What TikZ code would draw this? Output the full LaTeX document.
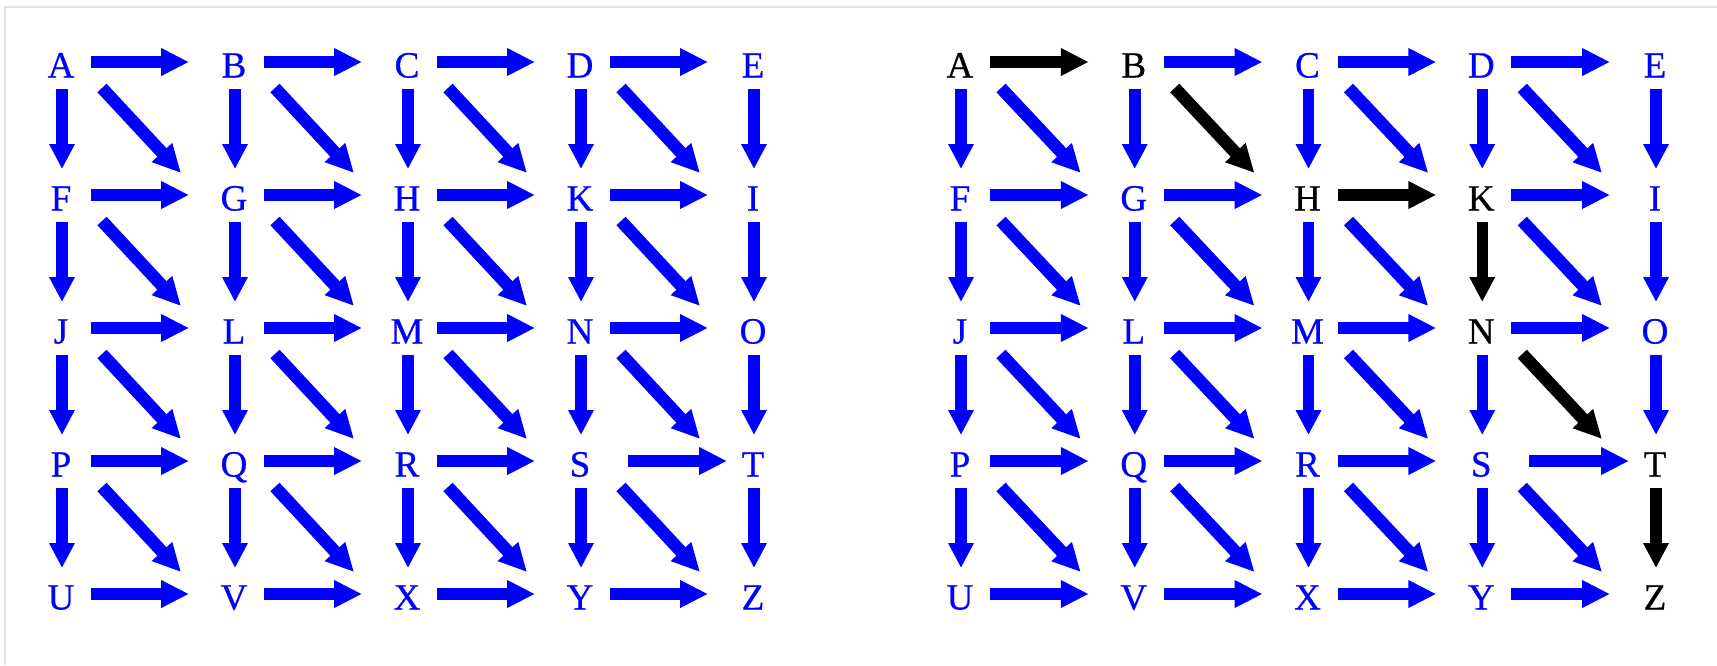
\documentclass[tikz,border=0pt]{standalone}
\usepackage{fontspec}
\setmainfont{Liberation Serif}
\newfontfamily\lblfont{Liberation Serif}[FakeBold=0.6]
\usetikzlibrary{arrows.meta}
\definecolor{pblue}{RGB}{0,0,255}
\definecolor{framegray}{RGB}{228,228,228}
\newcommand\markblk[1]{\expandafter\def\csname blk-#1\endcsname{}}
\markblk{R-n-0-0}\markblk{R-n-0-1}\markblk{R-n-1-2}\markblk{R-n-1-3}
\markblk{R-n-2-3}\markblk{R-n-3-4}\markblk{R-n-4-4}
\markblk{R-h-0-0}\markblk{R-d-0-1}\markblk{R-h-1-2}\markblk{R-v-1-3}
\markblk{R-d-2-3}\markblk{R-v-3-4}
\newcommand\drawgrid[3]{%
  \foreach \n [count=\k from 0] in {A,B,C,D,E,F,G,H,K,I,J,L,M,N,O,P,Q,R,S,T,U,V,X,Y,Z}{
    \pgfmathtruncatemacro\r{\k/5}
    \pgfmathtruncatemacro\c{mod(\k,5)}
    \ifcsname blk-#1-n-\r-\c\endcsname\def\tc{black}\else\def\tc{pblue}\fi
    \node[lbl,text=\tc] (#1-\r-\c) at ({#2+\c*#3},{65+\r*133}) {\n};
  }
  % horizontal arrows
  \foreach \r in {0,...,4}{
    \foreach \c in {0,...,3}{
      \pgfmathtruncatemacro\cc{\c+1}
      \ifcsname blk-#1-h-\r-\c\endcsname\def\ac{black}\else\def\ac{pblue}\fi
      \ifnum\r\c=33 \def\hs{48}\else\def\hs{30}\fi
      \ifnum\r\c=33 \def\he{-26}\else\def\he{-45}\fi
      \draw[arr,draw=\ac] ([shift={(\hs,-3)}]#1-\r-\c.center) -- ([shift={(\he,-3)}]#1-\r-\cc.center);
    }
  }
  % vertical arrows
  \foreach \r in {0,...,3}{
    \foreach \c in {0,...,4}{
      \pgfmathtruncatemacro\rr{\r+1}
      \ifcsname blk-#1-v-\r-\c\endcsname\def\ac{black}\else\def\ac{pblue}\fi
      \draw[varr,draw=\ac] ([shift={(1,24)}]#1-\r-\c.center) -- ([shift={(1,-29)}]#1-\rr-\c.center);
    }
  }
  % diagonal arrows
  \foreach \r in {0,...,3}{
    \foreach \c in {0,...,3}{
      \pgfmathtruncatemacro\rr{\r+1}
      \pgfmathtruncatemacro\cc{\c+1}
      \ifcsname blk-#1-d-\r-\c\endcsname\def\ac{black}\else\def\ac{pblue}\fi
      \draw[arr,draw=\ac] ([shift={(41,23)}]#1-\r-\c.center) -- ([shift={(-53,-25)}]#1-\rr-\cc.center);
    }
  }
}
\begin{document}
\begin{tikzpicture}[x=1pt,y=-1pt,
  lbl/.style={font=\lblfont\fontsize{37}{38}\selectfont, inner sep=0pt, text height=25pt, text depth=0pt, anchor=center},
  arr/.style={line width=12.5pt, -{Triangle[length=28pt,width=26pt]}},
  varr/.style={line width=11.5pt, -{Triangle[length=25pt,width=24pt]}},
  framestyle/.style={draw=framegray, line width=2pt}]
  \useasboundingbox (0,0) rectangle (1717,665);
  \draw[framestyle] (5,665) -- (5,7) -- (1717,7);
  \drawgrid{L}{61}{173}
  \drawgrid{R}{960}{173.75}
\end{tikzpicture}
\end{document}
